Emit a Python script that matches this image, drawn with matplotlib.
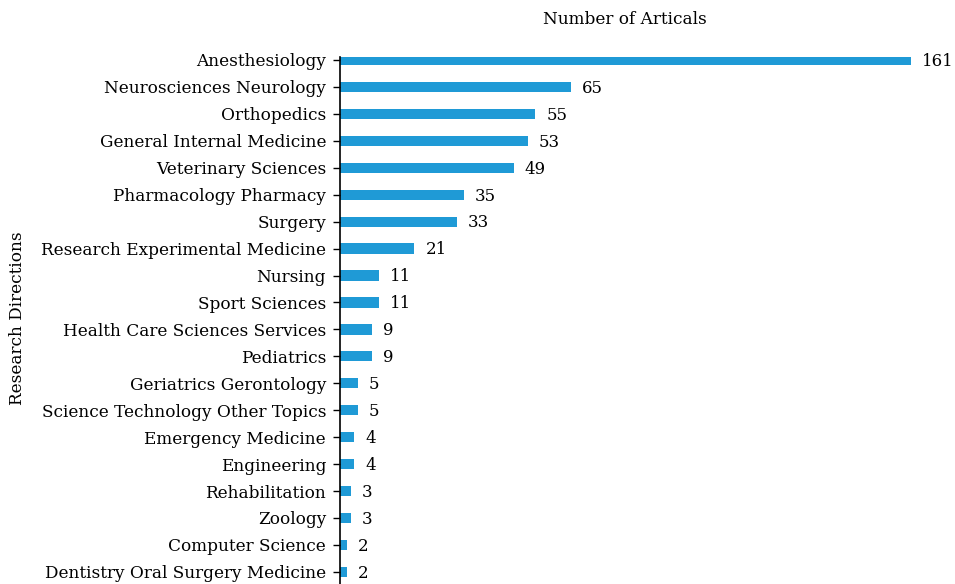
import matplotlib.pyplot as plt
import numpy as np

plt.rcParams['font.family'] = ['DejaVu Serif']

categories = [
    "Anesthesiology", "Neurosciences Neurology", "Orthopedics",
    "General Internal Medicine", "Veterinary Sciences", "Pharmacology Pharmacy",
    "Surgery", "Research Experimental Medicine", "Nursing", "Sport Sciences",
    "Health Care Sciences Services", "Pediatrics", "Geriatrics Gerontology",
    "Science Technology Other Topics", "Emergency Medicine", "Engineering",
    "Rehabilitation", "Zoology", "Computer Science",
    "Dentistry Oral Surgery Medicine",
]
counts = [161, 65, 55, 53, 49, 35, 33, 21, 11, 11, 9, 9, 5, 5, 4, 4, 3, 3, 2, 2]

fig = plt.figure(figsize=(9.55, 5.84), dpi=100)
ax = fig.add_axes([340 / 955, 0.0, 571 / 955, 1 - 57.3 / 584])

y = np.arange(len(categories))
ax.barh(y, counts, height=0.38, color='#1f9ad6')
ax.set_xlim(0, 161)
ax.set_ylim(19.45, -0.1)

# value labels to the right of each bar
for yi, v in zip(y, counts):
    ax.annotate(str(v), (v, yi + 0.05), xytext=(8, 0), textcoords='offset points',
                va='center', ha='left', fontsize=12, annotation_clip=False)

ax.set_yticks(y)
ax.set_yticklabels(categories, fontsize=12.2)
ax.tick_params(axis='y', length=5, width=1, pad=5)
ax.set_xticks([])
for s in ['top', 'right', 'bottom']:
    ax.spines[s].set_visible(False)
ax.spines['left'].set_linewidth(1.2)

fig.text(625 / 955, 1 - 20 / 584, "Number of Articals", ha='center', va='center', fontsize=12.2)
fig.text(18 / 955, 1 - 318 / 584, "Research Directions", ha='center', va='center',
         rotation=90, fontsize=12.2)

fig.savefig('out.png', dpi=100)
